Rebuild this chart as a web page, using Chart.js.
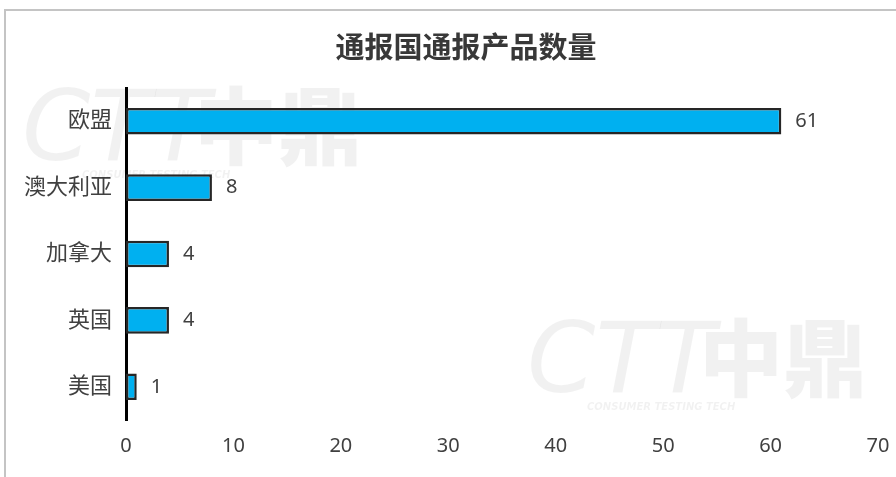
<!DOCTYPE html>
<html>
<head>
    <meta charset="UTF-8">
    <title>通报国通报产品数量</title>
    <script src="https://cdn.jsdelivr.net/npm/chart.js"></script>
    <style>
        html, body { margin: 0; padding: 0; background: #fff; overflow: hidden; width: 896px; height: 477px; }
        #frame {
            position: absolute; left: 4px; top: 9px; width: 1000px; height: 1000px;
            border: 2px solid #c4c4c4; box-sizing: border-box;
        }
        #chart-box { position: absolute; left: 0; top: 0; width: 920px; height: 477px; }
        #title {
            position: absolute; left: 0; top: 27px; width: 932px; text-align: center;
            font: bold 29px "Noto Sans CJK SC", sans-serif; color: #383838; line-height: 36px;
            z-index: 2;
        }
    </style>
</head>
<body>
    <div id="frame"></div>
    <div id="title"></div>
    <div id="chart-box"><canvas id="myChart"></canvas></div>

    <script>
        const countries = ['欧盟', '澳大利亚', '加拿大', '英国', '美国'];
        const productCounts = [61, 8, 4, 4, 1];
        const xTicks = [0, 10, 20, 30, 40, 50, 60, 70];
        const chartTitle = '通报国通报产品数量';
        const textColor = '#404040';
        const fontFamily = '"Noto Sans", "Noto Sans CJK SC", sans-serif';

        document.getElementById('title').textContent = chartTitle;

        // faint CTT logo behind the bars
        const watermark = {
            id: 'watermark',
            beforeDatasetsDraw(chart) {
                const ctx = chart.ctx;
                ctx.save();
                ctx.fillStyle = 'rgba(0,0,0,0.055)';
                ctx.textBaseline = 'top';
                [[22, 86], [527, 318]].forEach(([x, y]) => {
                    ctx.font = 'italic 98px "DejaVu Sans", sans-serif';
                    ctx.fillText('CTT', x, y);
                    ctx.font = '900 84px "Noto Sans CJK SC", sans-serif';
                    ctx.fillText('中鼎', x + 172, y - 2);
                    ctx.font = 'italic bold 10px "DejaVu Sans", sans-serif';
                    ctx.fillText('CONSUMER TESTING TECH', x + 60, y + 84);
                });
                ctx.restore();
            }
        };

        const valueLabels = {
            id: 'valueLabels',
            afterDatasetsDraw(chart) {
                const ctx = chart.ctx;
                const meta = chart.getDatasetMeta(0);
                ctx.save();
                ctx.font = '20px ' + fontFamily;
                ctx.fillStyle = textColor;
                ctx.textAlign = 'left';
                ctx.textBaseline = 'middle';
                meta.data.forEach((bar, i) => {
                    ctx.fillText(productCounts[i], bar.x + 14, bar.y);
                });
                ctx.restore();
            }
        };

        const ctx = document.getElementById('myChart').getContext('2d');
        new Chart(ctx, {
            type: 'bar',
            data: {
                labels: countries,
                datasets: [{
                    data: productCounts,
                    backgroundColor: '#00b0f0',
                    borderColor: '#262626',
                    borderWidth: 2.5,
                    borderSkipped: false,
                    barPercentage: 0.4,
                    categoryPercentage: 1.0
                }]
            },
            options: {
                indexAxis: 'y',
                responsive: true,
                maintainAspectRatio: false,
                animation: false,
                layout: { padding: { left: 0, right: 42, top: 88, bottom: 0 } },
                plugins: {
                    legend: { display: false },
                    tooltip: { enabled: false },
                    title: { display: false }
                },
                scales: {
                    x: {
                        min: xTicks[0],
                        max: xTicks[xTicks.length - 1],
                        afterBuildTicks: axis => { axis.ticks = xTicks.map(v => ({ value: v })); },
                        grid: { display: false, drawTicks: false },
                        border: { display: false },
                        ticks: { color: textColor, padding: 14, font: { family: fontFamily, size: 20 } },
                        afterFit: axis => { axis.height = 57; }
                    },
                    y: {
                        grid: { display: false, drawTicks: false },
                        border: { display: true, color: '#000', width: 3 },
                        ticks: { color: textColor, padding: 14, font: { family: fontFamily, size: 22 } },
                        afterFit: axis => { axis.width = 126; }
                    }
                }
            },
            plugins: [watermark, valueLabels]
        });
    </script>
</body>
</html>
